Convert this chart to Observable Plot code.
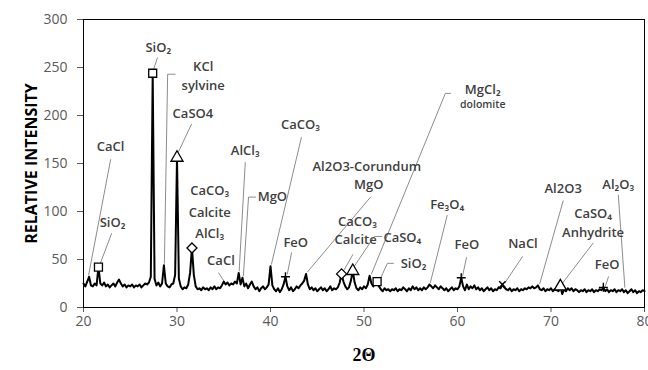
<!DOCTYPE html>
<html>
<head>
<meta charset="utf-8">
<script src="https://cdn.jsdelivr.net/npm/d3@7"></script>
<script src="https://cdn.jsdelivr.net/npm/@observablehq/plot@0.6"></script>
<style>
  html, body { margin: 0; padding: 0; background: #fff; }
  #chart { width: 648px; height: 370px; }
</style>
</head>
<body>
<div id="chart"></div>
<script>
// ---- Data ----
const startAngle = 20;   // first 2θ sample
const stepAngle = 0.2;   // sampling step of the scan
const intensity = [
  25,22,27,32,23, 22,25,23,42,25,
  23,26,22,24,21, 23,25,22,26,29,
  25,22,24,21,23, 22,24,21,23,22,
  24,21,23,25,24, 26,32,244,30,23,
  26,22,25,44,25, 22,21,24,25,34,
  156,30,22,19,21, 20,24,36,62,34,
  22,19,20,18,21, 19,20,18,21,19,
  22,19,21,20,23, 27,24,26,23,25,
  24,27,25,36,24, 31,22,25,20,24,
  27,22,19,21,17, 20,22,19,21,24,
  43,23,19,17,20, 16,19,24,32,22,
  18,21,17,19,22, 20,23,25,28,35,
  24,19,21,18,20, 17,19,21,18,20,
  17,19,22,18,20, 19,21,26,35,27,
  22,19,21,28,38, 26,20,18,21,19,
  22,20,24,33,25, 22,26,27,22,19,
  17,20,18,19,17, 19,18,20,17,19,
  18,21,19,17,20, 18,22,19,21,18,
  20,18,21,19,21, 24,22,20,23,21,
  19,22,20,18,20, 17,19,21,18,20,
  19,22,31,22,18, 24,19,22,20,23,
  19,21,18,20,17, 19,21,18,20,17,
  19,18,21,20,24, 21,19,18,20,17,
  19,18,20,17,19, 18,20,19,21,20,
  22,20,21,23,19, 18,20,17,19,18,
  20,17,19,18,17, 22,14,19,17,20,
  18,20,17,19,18, 16,18,17,19,16,
  18,17,19,16,18, 17,19,18,21,17,
  19,16,18,17,19, 16,18,17,19,16,
  18,15,17,19,16, 18,15,17,16,18,
  17
];
const xTicks = [20, 30, 40, 50, 60, 70, 80];
const yTicks = [0, 50, 100, 150, 200, 250, 300];

// peak markers
const markerX = [21.6, 27.4, 51.4, 30.0, 48.8, 71.0, 31.6, 47.6, 41.6, 60.4, 75.6, 64.8];
const markerY = [42, 244, 27, 156, 38, 22, 62, 35, 32, 31, 21, 24];
const markerKind = ["square","square","square","triangle","triangle","triangle","diamond2","diamond2","plus","plus","plus","times"];

// annotation labels (positions in data units)
const labelText = ["SiO₂","KCl","sylvine","CaSO4","CaCl","SiO₂","AlCl₃","CaCO₃","CaCO₃","Calcite","AlCl₃","MgO","CaCl","FeO",
  "Al2O3-Corundum","MgO","CaCO₃","Calcite","CaSO₄","SiO₂","MgCl₂","Fe₃O₄","FeO","NaCl","Al2O3","Al₂O₃","CaSO₄","Anhydrite","FeO"];
const labelX = [28.0,32.8,32.8,31.7,22.9,23.1,37.3,43.2,33.5,33.5,33.5,40.2,34.7,42.7,
  50.3,50.5,49.3,49.1,54.1,55.3,62.7,58.9,61.0,67.0,71.3,77.2,74.5,74.5,76.0];
const labelY = [271,251,231,202,167,88,163,190,122,99,77,115,49,67,
  147,128,89,70,73,45,227,107,65,66,124,128,98,78,44];
const subLabelText = ["dolomite"];
const subLabelX = [62.7];
const subLabelY = [211];

// leader lines: id, x, y (polyline points in data units)
const leaderId = ["A","A","B","B","B","C","C","D","D","E","E","F","F","G","G","G","H","H","I","I","J","J","K","K","L","L",
  "M","M","M","N","N","N","O","O","O","P","P","Q","Q","R","R","S","S","T","T","U","U","V","V"];
const leaderX = [27.9,27.5, 29.8,29.0,28.65, 31.55,30.15, 22.9,20.55, 23.0,21.8, 37.3,36.65, 38.4,37.65,37.1, 43.3,40.1, 34.45,35.0,
  42.25,41.8, 50.7,43.95, 48.8,47.8, 51.9,51.1,48.9, 59.25,58.7,50.8, 53.15,52.5,51.75, 58.9,57.1, 60.96,60.55, 66.95,65.1,
  71.3,68.8, 77.2,77.9, 74.5,71.2, 76.15,75.8];
const leaderY = [260,248, 243,243,46, 191,162, 154,34, 77,46, 151,38, 115,115,33, 177,45, 36,28,
  57,35, 115,37, 55,38, 74,74,42, 223,223,35, 46,46,30, 96,26, 52,33, 53,26,
  111,25, 117,21, 67,25, 32,22];

// ---- Build tables ----
const scan = intensity.map((v, i) => ({angle: startAngle + i * stepAngle, value: v}));
const markers = markerX.map((x, i) => ({x, y: markerY[i], kind: markerKind[i]}));
const labels = labelText.map((t, i) => ({t, x: labelX[i], y: labelY[i]}));
const subLabels = subLabelText.map((t, i) => ({t, x: subLabelX[i], y: subLabelY[i]}));
const leaders = leaderId.map((id, i) => ({id, x: leaderX[i], y: leaderY[i]}));
const isStroke = (d) => d.kind === "plus" || d.kind === "times";

const font = "'Open Sans', 'DejaVu Sans', sans-serif";

const chart = Plot.plot({
  width: 648,
  height: 370,
  marginLeft: 83,
  marginRight: 4,
  marginTop: 19,
  marginBottom: 63,
  style: {fontFamily: font, background: "#fff"},
  x: {domain: [20, 80]},
  y: {domain: [0, 300]},
  symbol: {type: "identity"},
  marks: [
    Plot.axisX({ticks: xTicks, tickSize: 5, tickPadding: 4, fontSize: 14, color: "#595959", label: null}),
    Plot.axisY({ticks: yTicks, tickSize: 6, tickPadding: 10, fontSize: 14, color: "#595959", label: null}),
    Plot.line(leaders, {x: "x", y: "y", z: "id", stroke: "#8c8c8c", strokeWidth: 1}),
    Plot.line(scan, {x: "angle", y: "value", stroke: "#000", strokeWidth: 2, strokeLinejoin: "round"}),
    Plot.dot(markers.filter(d => !isStroke(d)), {x: "x", y: "y", symbol: "kind", r: 4.5, fill: "#fff", stroke: "#000", strokeWidth: 1.3}),
    Plot.dot(markers.filter(isStroke), {x: "x", y: "y", symbol: "kind", r: 3, stroke: "#000", strokeWidth: 1.4}),
    Plot.text(labels, {x: "x", y: "y", text: "t", fontSize: 13, fontWeight: 600, fill: "#404040"}),
    Plot.text(subLabels, {x: "x", y: "y", text: "t", fontSize: 10.5, fontWeight: 600, fill: "#404040"}),
    Plot.frame({stroke: "#000", strokeWidth: 1}),
    Plot.text(["RELATIVE INTENSITY"], {frameAnchor: "left", dx: -52, rotate: -90, textAnchor: "middle", lineAnchor: "middle", fontSize: 16, fontWeight: 700, fill: "#000"}),
    Plot.text(["2Θ"], {frameAnchor: "bottom", dy: 48, textAnchor: "middle", lineAnchor: "middle", fontSize: 18, fontWeight: 700, fill: "#000", fontFamily: "'Liberation Serif', serif"})
  ]
});
document.getElementById("chart").appendChild(chart);
</script>
</body>
</html>
